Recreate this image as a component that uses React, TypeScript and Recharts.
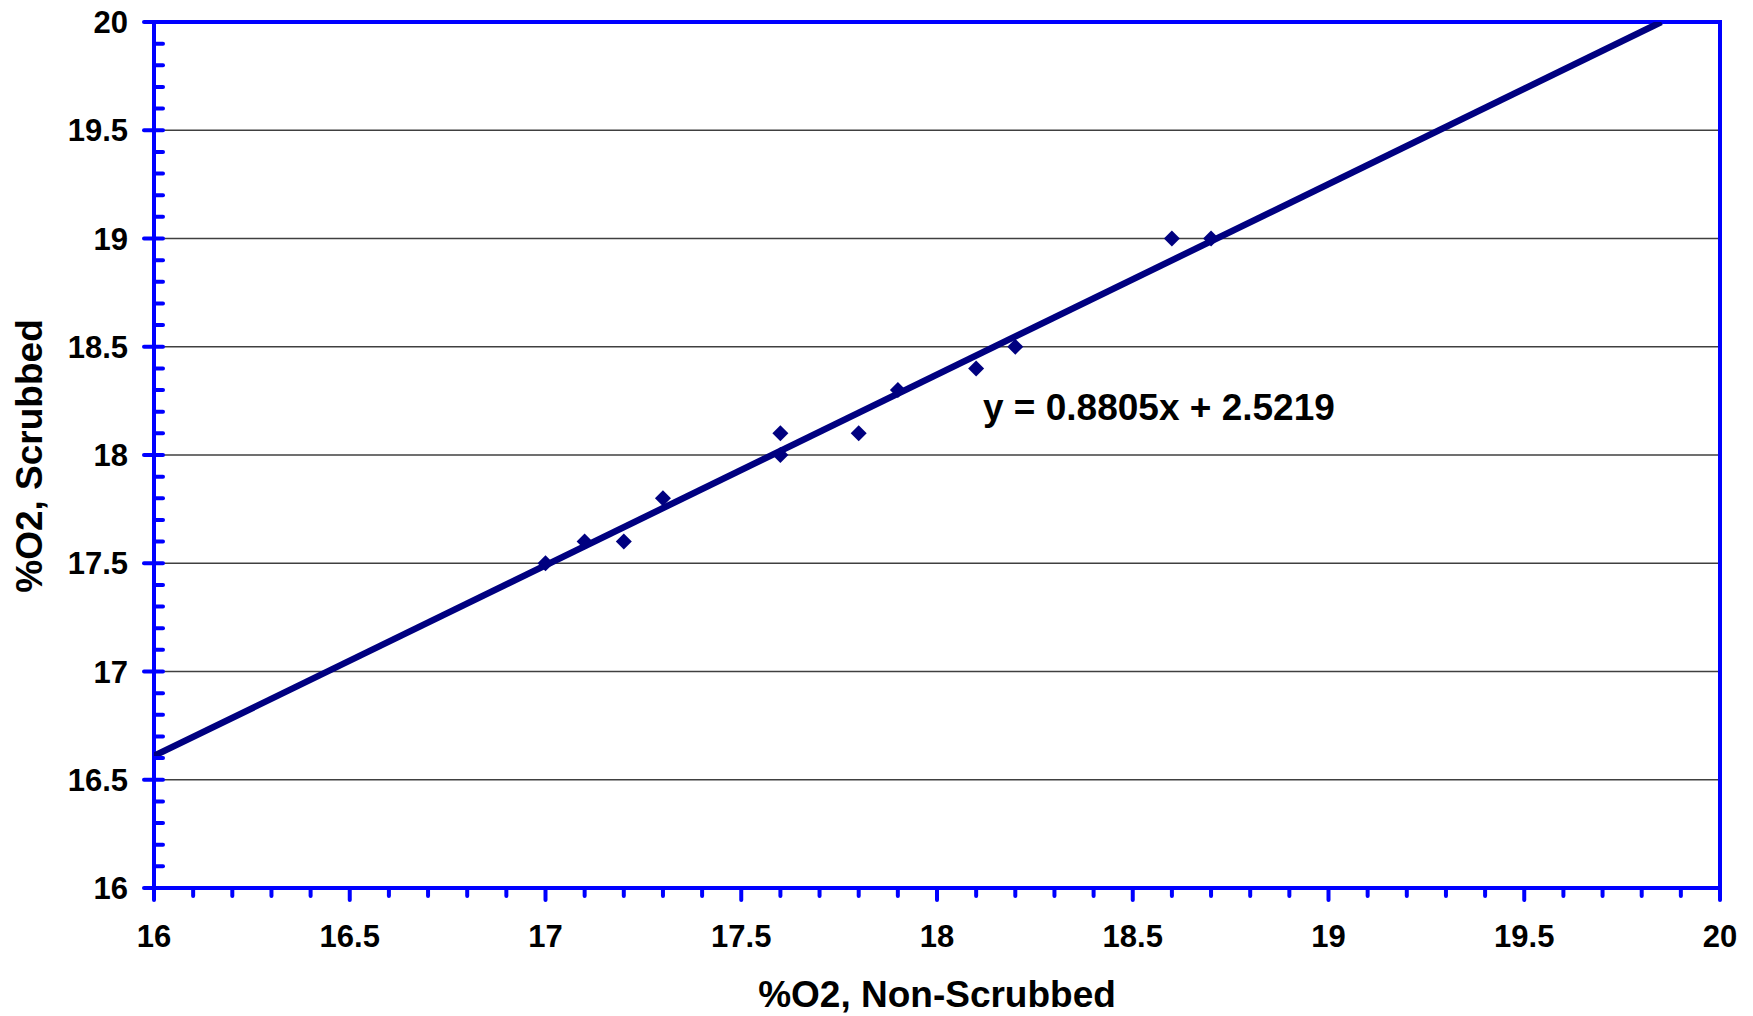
import React from "react";
import {
  ScatterChart,
  Scatter,
  XAxis,
  YAxis,
  CartesianGrid,
  ReferenceArea,
} from "recharts";

// Observed points (%O2 non-scrubbed vs scrubbed)
const xValues = [17, 17.1, 17.2, 17.3, 17.6, 17.6, 17.8, 17.9, 18.1, 18.2, 18.6, 18.7];
const yValues = [17.5, 17.6, 17.6, 17.8, 18.1, 18.0, 18.1, 18.3, 18.4, 18.5, 19.0, 19.0];

// Linear trendline end points
const trendX = [16, 19.85];
const trendY = [16.61, 20];

const equationText = "y = 0.8805x + 2.5219";
const xTitle = "%O2, Non-Scrubbed";
const yTitle = "%O2, Scrubbed";

const majorTicks = [16, 16.5, 17, 17.5, 18, 18.5, 19, 19.5, 20];
const allTicks = [
  16, 16.1, 16.2, 16.3, 16.4, 16.5, 16.6, 16.7, 16.8, 16.9,
  17, 17.1, 17.2, 17.3, 17.4, 17.5, 17.6, 17.7, 17.8, 17.9,
  18, 18.1, 18.2, 18.3, 18.4, 18.5, 18.6, 18.7, 18.8, 18.9,
  19, 19.1, 19.2, 19.3, 19.4, 19.5, 19.6, 19.7, 19.8, 19.9, 20,
];
const gridValues = [16.5, 17, 17.5, 18, 18.5, 19, 19.5];

const points = xValues.map((x, i) => ({ x, y: yValues[i] }));
const trend = trendX.map((x, i) => ({ x, y: trendY[i] }));

const BLUE = "#0000FF";
const NAVY = "#000080";
const FONT = "'Liberation Sans', Arial, Helvetica, sans-serif";

const isMajor = (v: number) => majorTicks.some((m) => Math.abs(m - v) < 1e-6);

const XTick = (props: any) => {
  const { x, y, payload } = props;
  const v = payload.value;
  const major = isMajor(v);
  return (
    <g>
      <line
        x1={x}
        y1={y}
        x2={x}
        y2={y + (major ? 12 : 8)}
        stroke={BLUE}
        strokeWidth={4}
        strokeLinecap="round"
      />
      {major && (
        <text
          x={x}
          y={y + 59}
          textAnchor="middle"
          fontFamily={FONT}
          fontWeight="bold"
          fontSize={31}
          fill="#000"
        >
          {String(v)}
        </text>
      )}
    </g>
  );
};

const YTick = (props: any) => {
  const { x, y, payload } = props;
  const v = payload.value;
  const major = isMajor(v);
  return (
    <g>
      <line
        x1={major ? x - 10 : x}
        y1={y}
        x2={x + 9}
        y2={y}
        stroke={BLUE}
        strokeWidth={4}
        strokeLinecap="round"
      />
      {major && (
        <text
          x={x - 26}
          y={y + 11}
          textAnchor="end"
          fontFamily={FONT}
          fontWeight="bold"
          fontSize={31}
          fill="#000"
        >
          {String(v)}
        </text>
      )}
    </g>
  );
};

const Diamond = (props: any) => {
  const { cx, cy } = props;
  if (cx == null || cy == null) return null;
  const r = 8;
  return (
    <polygon
      points={`${cx},${cy - r} ${cx + r},${cy} ${cx},${cy + r} ${cx - r},${cy}`}
      fill={NAVY}
    />
  );
};

const NoShape = () => null;

export default function App() {
  return (
    <div
      style={{
        position: "absolute",
        left: 0,
        top: 0,
        width: 1753,
        height: 1016,
        background: "#fff",
      }}
    >
      <ScatterChart
        width={1753}
        height={1016}
        margin={{ top: 22, right: 33, bottom: 0, left: 0 }}
      >
        <CartesianGrid
          horizontal={true}
          vertical={false}
          horizontalValues={gridValues}
          stroke="#404040"
          strokeWidth={1.3}
        />
        <XAxis
          type="number"
          dataKey="x"
          domain={[16, 20]}
          ticks={allTicks}
          interval={0}
          height={128}
          tickSize={0}
          tickMargin={0}
          tickLine={false}
          axisLine={{ stroke: BLUE, strokeWidth: 4 }}
          tick={<XTick />}
          allowDataOverflow
        />
        <YAxis
          type="number"
          dataKey="y"
          domain={[16, 20]}
          ticks={allTicks}
          interval={0}
          width={154}
          tickSize={0}
          tickMargin={0}
          tickLine={false}
          axisLine={{ stroke: BLUE, strokeWidth: 4 }}
          tick={<YTick />}
          allowDataOverflow
        />
        <Scatter
          data={trend}
          line={{ stroke: NAVY, strokeWidth: 6.5 }}
          shape={<NoShape />}
          isAnimationActive={false}
        />
        <Scatter
          data={points}
          shape={<Diamond />}
          fill={NAVY}
          isAnimationActive={false}
        />
        <ReferenceArea
          x1={16}
          x2={20}
          y1={16}
          y2={20}
          fill="none"
          fillOpacity={0}
          stroke={BLUE}
          strokeWidth={4}
        />
      </ScatterChart>
      <svg
        width={1753}
        height={1016}
        style={{ position: "absolute", left: 0, top: 0, pointerEvents: "none" }}
      >
        <text
          x={983}
          y={420}
          fontFamily={FONT}
          fontWeight="bold"
          fontSize={37}
          fill="#000"
        >
          {equationText}
        </text>
        <text
          x={937}
          y={1007}
          textAnchor="middle"
          fontFamily={FONT}
          fontWeight="bold"
          fontSize={37}
          fill="#000"
        >
          {xTitle}
        </text>
        <text
          transform="translate(42,456) rotate(-90)"
          textAnchor="middle"
          fontFamily={FONT}
          fontWeight="bold"
          fontSize={37}
          fill="#000"
        >
          {yTitle}
        </text>
      </svg>
    </div>
  );
}
